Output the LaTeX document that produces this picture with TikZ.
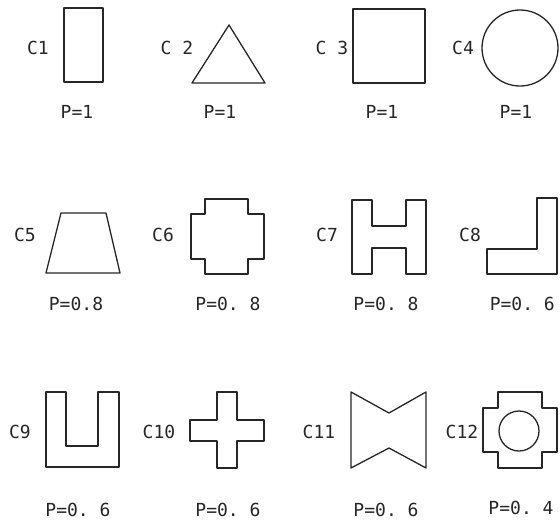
\documentclass[tikz,border=0pt]{standalone}
\usepackage{fontspec}
\setmonofont{DejaVu Sans Mono}
\begin{document}
\begin{tikzpicture}[x=1pt,y=-1pt,
  shp/.style={draw=black!85,line width=1.3pt,line join=round},
  lbl/.style={font=\ttfamily\fontsize{18}{18}\selectfont,text=black!85,inner sep=0pt}]
\useasboundingbox (0,0) rectangle (560,520);
% Row 1
\draw[shp] (64,8) rectangle (103,82);
\node[lbl] (l1) at (38,48) {C1};
\node[lbl] (p1) at (77,112) {P=1};
\draw[shp] (229,25) -- (265,83) -- (192,83) -- cycle;
\node[lbl] (l2) at (177,48) {C 2};
\node[lbl] (p2) at (220,112) {P=1};
\draw[shp] (353,9) rectangle (425,83);
\node[lbl] (l3) at (332,48) {C 3};
\node[lbl] (p3) at (382,112) {P=1};
\draw[shp] (520,48) circle (38);
\node[lbl] (l4) at (463,48) {C4};
\node[lbl] (p4) at (516,112) {P=1};
% Row 2
\draw[shp] (61,213) -- (106,213) -- (120,273) -- (46,273) -- cycle;
\node[lbl] (l5) at (25,235) {C5};
\node[lbl] (p5) at (76,304) {P=0.8};
\draw[shp] (205,199) -- (248,199) -- (248,214) -- (264,214) -- (264,259) -- (248,259) -- (248,274) -- (205,274) -- (205,259) -- (191,259) -- (191,214) -- (205,214) -- cycle;
\node[lbl] (l6) at (163,235) {C6};
\node[lbl] (p6) at (228,304) {P=0. 8};
\draw[shp] (352,200) -- (372,200) -- (372,226) -- (406,226) -- (406,200) -- (426,200) -- (426,274) -- (406,274) -- (406,248) -- (372,248) -- (372,274) -- (352,274) -- cycle;
\node[lbl] (l7) at (327,235) {C7};
\node[lbl] (p7) at (386,304) {P=0. 8};
\draw[shp] (487,249) -- (537,249) -- (537,198) -- (557,198) -- (557,274) -- (487,274) -- cycle;
\node[lbl] (l8) at (470,235) {C8};
\node[lbl,anchor=east] (p8) at (555,304) {P=0. 6};
% Row 3
\draw[shp] (46,392) -- (66,392) -- (66,446) -- (98,446) -- (98,392) -- (119,392) -- (119,467) -- (46,467) -- cycle;
\node[lbl] (l9) at (20,432) {C9};
\node[lbl] (p9) at (78,510) {P=0. 6};
\draw[shp] (217,392) -- (237,392) -- (237,420) -- (264,420) -- (264,441) -- (237,441) -- (237,468) -- (217,468) -- (217,441) -- (190,441) -- (190,420) -- (217,420) -- cycle;
\node[lbl] (l10) at (159,432) {C10};
\node[lbl] (p10) at (228,510) {P=0. 6};
\draw[shp] (351,392) -- (389,413) -- (426,392) -- (426,468) -- (389,448) -- (351,468) -- cycle;
\node[lbl] (l11) at (319,432) {C11};
\node[lbl] (p11) at (386,510) {P=0. 6};
\draw[shp] (498,392) -- (542,392) -- (542,408) -- (557,408) -- (557,452) -- (542,452) -- (542,468) -- (498,468) -- (498,452) -- (483,452) -- (483,408) -- (498,408) -- cycle;
\draw[shp] (519,431) circle (20);
\node[lbl] (l12) at (462,432) {C12};
\node[lbl] (p12) at (521,508) {P=0. 4};
\end{tikzpicture}
\end{document}
